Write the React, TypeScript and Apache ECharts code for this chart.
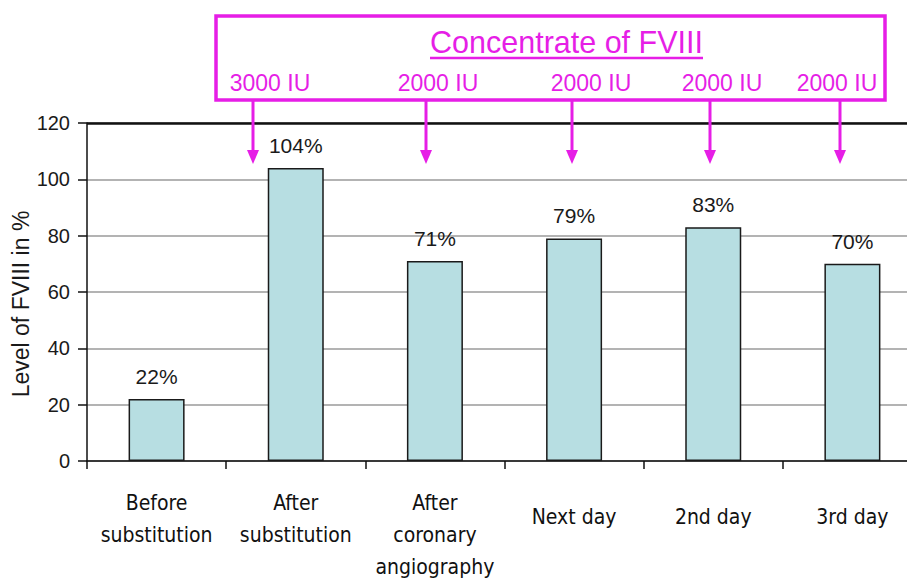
import React, { useEffect, useRef } from "react";
import * as echarts from "echarts";

const categories = [
  "Before\nsubstitution",
  "After\nsubstitution",
  "After\ncoronary\nangiography",
  "Next day",
  "2nd day",
  "3rd day",
];
const levels = [22, 104, 71, 79, 83, 70];
const yTicks = [0, 20, 40, 60, 80, 100, 120];
const yTitle = "Level of FVIII in %";
const boxTitle = "Concentrate of FVIII";
const doses = ["3000 IU", "2000 IU", "2000 IU", "2000 IU", "2000 IU"];
const doseTextX = [270, 438, 591, 722, 837];
const arrowX = [253, 426, 572, 710, 840];

const MAGENTA = "#e61ee6";
const SANS = "'Liberation Sans', Arial, sans-serif";
const NARROW = "'DejaVu Sans Condensed', sans-serif";

export default function App() {
  const ref = useRef<HTMLDivElement>(null);
  useEffect(() => {
    if (!ref.current) return;
    const chart = echarts.init(ref.current, undefined, { renderer: "svg" });
    const graphics: any[] = [
      {
        type: "rect",
        shape: { x: 216, y: 16, width: 669, height: 84 },
        style: { fill: "none", stroke: MAGENTA, lineWidth: 3.5 },
      },
      {
        type: "text",
        x: 566.5,
        y: 42,
        style: {
          text: boxTitle,
          fill: MAGENTA,
          font: `30.5px ${SANS}`,
          textAlign: "center",
          textVerticalAlign: "middle",
        },
      },
      {
        type: "line",
        shape: { x1: 430, y1: 58, x2: 703, y2: 58 },
        style: { stroke: MAGENTA, lineWidth: 2.5 },
      },
      {
        type: "text",
        x: 21,
        y: 304,
        rotation: Math.PI / 2,
        style: {
          text: yTitle,
          fill: "#1a1a1a",
          font: `23px ${SANS}`,
          textAlign: "center",
          textVerticalAlign: "middle",
        },
      },
    ];
    doses.forEach((d, i) => {
      graphics.push({
        type: "text",
        x: doseTextX[i],
        y: 83,
        style: {
          text: d,
          fill: MAGENTA,
          font: `23px ${SANS}`,
          textAlign: "center",
          textVerticalAlign: "middle",
        },
      });
    });
    arrowX.forEach((x) => {
      graphics.push({
        type: "line",
        z: 10,
        shape: { x1: x, y1: 101, x2: x, y2: 152 },
        style: { stroke: MAGENTA, lineWidth: 3 },
      });
      graphics.push({
        type: "polygon",
        z: 10,
        shape: { points: [[x - 6, 150], [x + 6, 150], [x, 164]] },
        style: { fill: MAGENTA },
      });
    });

    chart.setOption({
      animation: false,
      backgroundColor: "#ffffff",
      grid: {
        left: 87,
        top: 123,
        width: 835,
        height: 338,
        containLabel: false,
        outerBoundsMode: "none",
      },
      xAxis: {
        type: "category",
        data: categories.map((c) =>
          c.includes("\n") ? c : { value: c, textStyle: { padding: [14, 0, 0, 0] } }
        ),
        axisLine: { lineStyle: { color: "#111", width: 1.5 } },
        axisTick: { show: true, length: 8, lineStyle: { color: "#111", width: 1.5 } },
        axisLabel: {
          interval: 0,
          margin: 26,
          color: "#111",
          fontFamily: NARROW,
          fontSize: 21,
          lineHeight: 32,
        },
      },
      yAxis: {
        type: "value",
        min: yTicks[0],
        max: yTicks[yTicks.length - 1],
        interval: 20,
        axisLine: { show: true, lineStyle: { color: "#111", width: 1.5 } },
        axisTick: { show: true, length: 9, lineStyle: { color: "#111", width: 1.5 } },
        axisLabel: { margin: 17, fontFamily: SANS, fontSize: 20, color: "#1a1a1a" },
        splitLine: { show: true, lineStyle: { color: "#9a9a9a", width: 1.5 } },
      },
      series: [
        {
          type: "bar",
          data: levels,
          barWidth: 56,
          itemStyle: { color: "#b7dee2", borderColor: "#1a1a1a", borderWidth: 1.5 },
          label: {
            show: true,
            position: "top",
            distance: 12,
            formatter: "{c}%",
            fontFamily: SANS,
            fontSize: 21,
            color: "#1a1a1a",
          },
          markLine: {
            silent: true,
            symbol: "none",
            label: { show: false },
            lineStyle: { color: "#111", width: 2.5, type: "solid" },
            data: [{ yAxis: 120 }],
          },
        },
      ],
      graphic: graphics,
    });
    return () => chart.dispose();
  }, []);
  return (
    <div
      ref={ref}
      style={{ position: "fixed", left: 0, top: 0, width: 907, height: 585, background: "#fff" }}
    />
  );
}
